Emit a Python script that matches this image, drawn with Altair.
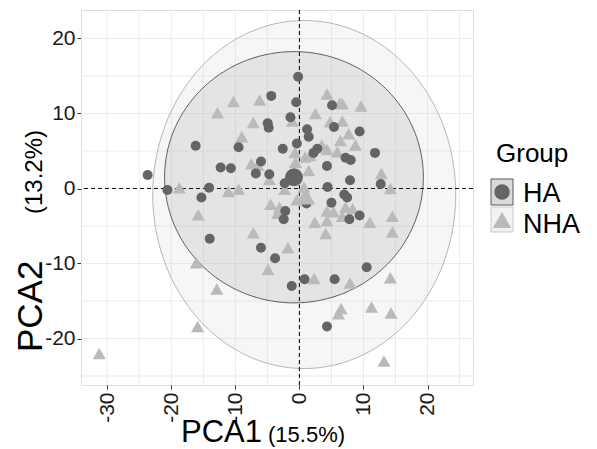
import altair as alt
import pandas as pd
import numpy as np

groups = ["HA", "NHA"]
group_colors = ["#646464", "#bababa"]
group_shapes = ["circle", "triangle-up"]

ha_x = [-0.2, -4.4, -0.5, -1.4, -4.95, -4.8, -16.2, -9.5, -2.6, -0.4, -23.7, -12.3, -10.7, -6.0, -6.8, -4.7,
        -2.3, -20.6, -14.1, -15.3, -2.2, -2.45, 1.1, 4.4, 7.0, 7.45, 5.0, 7.8, 9.4, -14.0, -6.0, -3.8, -1.2,
        0.8, 5.5, 10.5, 4.3, 5.1, 1.2, 1.45, 5.4, 9.4, 2.8, 2.2, 11.8, 7.2, 8.0, 4.3, 7.9, 12.7]
ha_y = [14.9, 12.35, 11.5, 9.5, 8.7, 8.1, 5.7, 5.5, 5.3, 6.0, 1.8, 2.8, 2.7, 3.6, 2.0, 1.9,
        0.7, -0.2, 0.1, -1.2, -3.0, -4.1, -2.0, 0.2, -0.8, -1.2, -1.9, -4.1, -3.6, -6.7, -7.9, -9.3, -13.0,
        -12.1, -12.1, -10.5, -18.4, 11.1, 7.9, 6.9, 8.2, 7.6, 5.3, 4.75, 4.75, 4.1, 3.8, 3.0, 1.1, 0.6]

nha_x = [-10.3, -6.2, -12.8, -7.2, -1.1, -9.0, -0.7, -7.5, -6.5, -4.7, -18.75, -11.1, -9.5, -15.8, -7.2,
         -1.8, -4.9, -16.1, -12.9, -15.9, -4.5, -3.1, -3.4, -0.4, -2.3, 4.3, 5.3, 7.2, 8.3, 6.7, 2.4, 4.3,
         4.1, 11.0, 14.5, 14.5, 14.2, 2.3, 7.9, 14.2, 6.5, 6.1, 11.25, 14.3, 13.2, -31.25, 4.3, 6.3, 6.7,
         9.6, 2.5, 4.8, 6.7, 7.7, 6.4, 8.75, 3.5, 4.3, 5.9, 0.9, 1.7, 1.45, -0.6, 12.8, 0.7]
nha_y = [11.6, 11.8, 10.1, 8.8, 9.0, 6.9, 4.8, 3.3, 3.1, 1.2, 0.1, -0.4, -0.1, -3.5, -5.9,
         -7.9, -10.8, -9.9, -13.4, -18.4, -2.1, -2.5, -3.3, -1.5, -0.1, -3.0, -3.1, -2.5, -2.7, -3.7, -4.5, -4.3,
         -6.0, -4.5, -3.7, -5.8, 0.0, -12.0, -12.6, -11.9, -16.0, -16.7, -15.8, -16.6, -23.0, -22.0, 12.6, 11.4, 11.3,
         11.0, 10.0, 8.9, 9.0, 7.3, 6.4, 5.8, 5.8, 5.2, 4.9, 4.2, 4.4, 2.4, 3.5, 2.0, 0.2]

centroid_x = [-0.85, 0.95]
centroid_y = [1.5, -1.0]

ellipse_cx = [-0.85, 0.75]
ellipse_cy = [1.5, -0.8]
ellipse_rx = [20.2, 23.65]
ellipse_ry = [16.75, 23.2]
ellipse_fill = ["#a0a0a0", "#d4d4d4"]
ellipse_stroke = ["#5a5a5a", "#b4b4b4"]

x_ticks = [-30, -20, -10, 0, 10, 20]
y_ticks = [-20, -10, 0, 10, 20]
x_grid = [-30, -25, -20, -15, -10, -5, 0, 5, 10, 15, 20, 25]
y_grid = [-25, -20, -15, -10, -5, 0, 5, 10, 15, 20]
x_domain = [-34.1, 27.1]
y_domain = [-26.2, 23.8]

x_title = ["PCA1", "(15.5%)"]
y_title = ["PCA2", "(13.2%)"]
legend_title = ["Group"]

FONT = "Liberation Sans"
W, H = 392, 375

xs = alt.Scale(domain=x_domain, nice=False, zero=False)
ys = alt.Scale(domain=y_domain, nice=False, zero=False)

xaxis = alt.Axis(values=x_ticks, title=None, grid=False, domain=False, labelAngle=270,
                 labelExpr="'' + datum.value",
                 labelFontSize=21, labelColor="#1a1a1a", tickColor="#333333", tickSize=4,
                 labelPadding=3, labelFont=FONT)
yaxis = alt.Axis(values=y_ticks, title=None, grid=False, domain=False,
                 labelExpr="'' + datum.value",
                 labelFontSize=21, labelColor="#1a1a1a", tickColor="#333333", tickSize=4,
                 labelPadding=2, labelFont=FONT)


def X(field):
    return alt.X(field, scale=xs, axis=xaxis)


def Y(field):
    return alt.Y(field, scale=ys, axis=yaxis)


# grid
gx = alt.Chart(pd.DataFrame({"v": x_grid})).mark_rule(color="#ebebeb", strokeWidth=1).encode(x=X("v:Q"))
gy = alt.Chart(pd.DataFrame({"v": y_grid})).mark_rule(color="#ebebeb", strokeWidth=1).encode(y=Y("v:Q"))

# ellipses
t = np.linspace(0, np.pi, 181)
ell_layers = []
for i in [1, 0]:
    df = pd.DataFrame({
        "x": ellipse_cx[i] + ellipse_rx[i] * np.cos(t),
        "yt": ellipse_cy[i] + ellipse_ry[i] * np.sin(t),
        "yb": ellipse_cy[i] - ellipse_ry[i] * np.sin(t),
    })
    ell_layers.append(
        alt.Chart(df).mark_area(fill=ellipse_fill[i], fillOpacity=0.2, stroke=ellipse_stroke[i],
                                strokeWidth=1).encode(x=X("x:Q"), y=Y("yt:Q"), y2="yb:Q")
    )

# zero lines
zx = alt.Chart(pd.DataFrame({"v": [0]})).mark_rule(color="#111", strokeDash=[4, 3], strokeWidth=1.1).encode(
    x=X("v:Q"))
zy = alt.Chart(pd.DataFrame({"v": [0]})).mark_rule(color="#111", strokeDash=[4, 3], strokeWidth=1.1).encode(
    y=Y("v:Q"))

nha_df = pd.DataFrame({"x": nha_x, "y": nha_y})
ha_df = pd.DataFrame({"x": ha_x, "y": ha_y})

p_nha = alt.Chart(nha_df).mark_point(shape=group_shapes[1], filled=True, size=170, opacity=1,
                                     color=group_colors[1]).encode(x=X("x:Q"), y=Y("y:Q"))
p_ha = alt.Chart(ha_df).mark_point(shape=group_shapes[0], filled=True, size=100, opacity=1,
                                   color=group_colors[0]).encode(x=X("x:Q"), y=Y("y:Q"))

cen_nha = alt.Chart(pd.DataFrame({"x": [centroid_x[1]], "y": [centroid_y[1]]})).mark_point(
    shape=group_shapes[1], filled=True, size=380, opacity=1, color=group_colors[1]).encode(
    x=X("x:Q"), y=Y("y:Q"))
cen_ha = alt.Chart(pd.DataFrame({"x": [centroid_x[0]], "y": [centroid_y[0]]})).mark_point(
    shape=group_shapes[0], filled=True, size=320, opacity=1, color=group_colors[0]).encode(
    x=X("x:Q"), y=Y("y:Q"))


def txt(label, x, y, size, angle=0):
    return alt.Chart(pd.DataFrame({"t": [label]})).mark_text(
        align="left", baseline="alphabetic", fontSize=size, font=FONT, color="#000000",
        angle=angle).encode(x=alt.value(x), y=alt.value(y), text="t:N")


# axis titles (two font sizes each)
xt1 = txt(x_title[0], 100, 432, 31)
xt2 = txt(x_title[1], 187, 432, 22)
yt1 = txt(y_title[0], -39, 342, 35, angle=270)
yt2 = txt(y_title[1], -39, 204, 24, angle=270)


# legend
def keybox(y0, y1, fill, stroke):
    return alt.Chart(pd.DataFrame({"a": [0]})).mark_rect(fill=fill, stroke=stroke, strokeWidth=1).encode(
        x=alt.value(410), x2=alt.value(432), y=alt.value(y0), y2=alt.value(y1))


kb1 = keybox(169, 195, "#dadada", "#5a5a5a")
kb2 = keybox(197, 222, "#f2f2f2", "#c8c8c8")
ks1 = alt.Chart(pd.DataFrame({"g": [groups[0]]})).mark_point(
    shape=group_shapes[0], filled=True, size=240, opacity=1, color=group_colors[0]).encode(
    x=alt.value(421), y=alt.value(182))
ks2 = alt.Chart(pd.DataFrame({"g": [groups[1]]})).mark_point(
    shape=group_shapes[1], filled=True, size=340, opacity=1, color=group_colors[1]).encode(
    x=alt.value(421), y=alt.value(210))
lt = txt(legend_title[0], 415, 152, 26)
l1 = txt(groups[0], 442, 192, 27)
l2 = txt(groups[1], 442, 223, 27)

chart = alt.layer(
    gx, gy, *ell_layers, zx, zy, p_nha, p_ha, cen_nha, cen_ha,
    xt1, xt2, yt1, yt2, kb1, kb2, ks1, ks2, lt, l1, l2
).properties(
    width=W, height=H, autosize="none",
    padding={"left": 73, "top": 2, "right": 116, "bottom": 64},
).configure_view(stroke="#6e6e6e", strokeWidth=1).configure(font=FONT)

chart.save("out.html", embed_options={"renderer": "svg", "actions": False})
